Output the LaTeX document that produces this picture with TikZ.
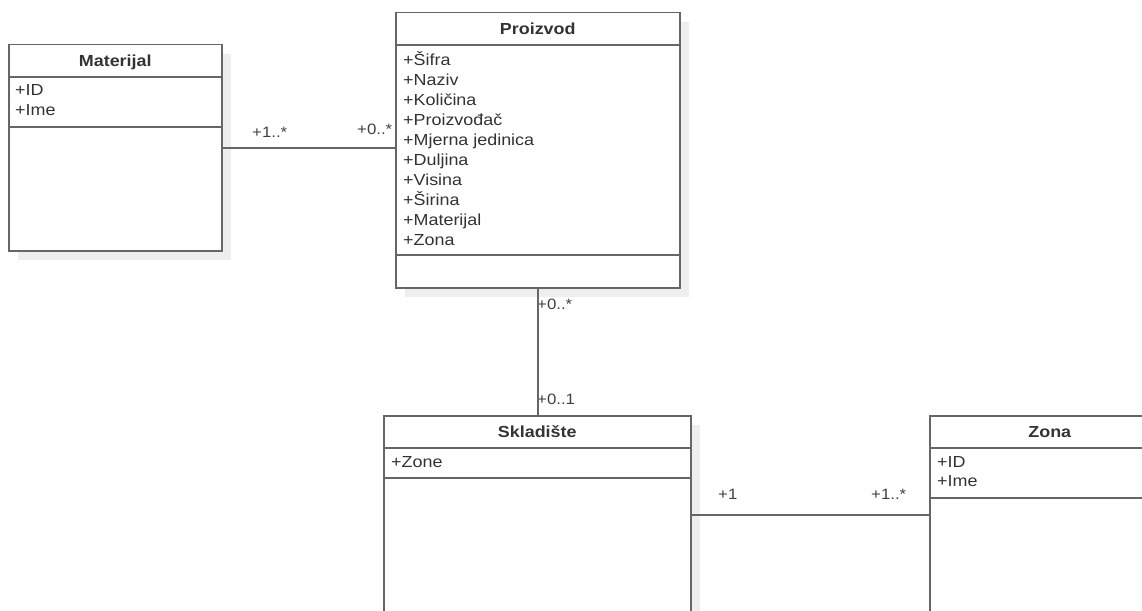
\documentclass[tikz,border=0pt]{standalone}
\usepackage{fontspec}
\setmainfont{Liberation Sans}[FakeStretch=1.12]
\usetikzlibrary{shadows}
\definecolor{umlline}{HTML}{666666}
\definecolor{umltext}{HTML}{333333}
\definecolor{umlshadow}{HTML}{EEEEEE}

\begin{document}
\begin{tikzpicture}
	[
	x=1pt, y=-1pt,
	font=\fontsize{16}{20}\selectfont,
	text=umltext,
	cls/.style={draw=umlline, line width=1.5pt, fill=white, anchor=north west, inner sep=0pt,
		drop shadow={shadow xshift=9pt, shadow yshift=-9pt, fill=umlshadow, opacity=1}},
	sep/.style={draw=umlline, line width=1.5pt},
	ttl/.style={font=\fontsize{16}{20}\selectfont\bfseries, text height=11.5pt, text depth=0pt, inner sep=0pt},
	attr/.style={anchor=base west, inner sep=0pt},
	mult/.style={anchor=base west, inner sep=0pt, font=\fontsize{15}{18}\selectfont, text=black!75},
	assoc/.style={draw=umlline, line width=1.5pt}
	]
		\useasboundingbox (0, 0) rectangle (1142, 610);
		
		% classes
		\node (mat) [cls, minimum width=213pt, minimum height=206pt] at (8, 44) {};
		\node (pro) [cls, minimum width=284pt, minimum height=275pt] at (395, 12) {};
		\node (skl) [cls, minimum width=307pt, minimum height=198pt] at (383, 415) {};
		\node (zon) [cls, minimum width=240pt, minimum height=198pt] at (929, 415) {};
		
		% compartments
		\foreach \n/\y in {mat/77, mat/127, pro/45, pro/255, skl/448, skl/478, zon/448, zon/498}
			\draw [sep] (\n.west |- 0, \y) -- (\n.east |- 0, \y);
		
		% titles
		\node (matT) [ttl] at (mat.north |- 0, 60.5) {Materijal};
		\node (proT) [ttl] at (pro.north |- 0, 28.5) {Proizvod};
		\node (sklT) [ttl] at (skl.north |- 0, 431.5) {Skladište};
		\node (zonT) [ttl] at (zon.north |- 0, 431.5) {Zona};
		
		% attributes
		\foreach \t [count=\i] in {+ID, +Ime}
			\node (matA\i) [attr] at (15, 75+20*\i) {\t};
		\foreach \t [count=\i] in {+Šifra, +Naziv, +Količina, +Proizvođač, +Mjerna jedinica, +Duljina, +Visina, +Širina, +Materijal, +Zona}
			\node (proA\i) [attr] at (403, 45+20*\i) {\t};
		\foreach \t [count=\i] in {+Zone}
			\node (sklA\i) [attr] at (391, 448+19*\i) {\t};
		\foreach \t [count=\i] in {+ID, +Ime}
			\node (zonA\i) [attr] at (937, 448+19*\i) {\t};
		
		% multiplicities
		\node (mMat) [mult] at (252, 137) {+1..*};
		\node (mProL) [mult] at (357, 134) {+0..*};
		\node (mProB) [mult] at (537, 309) {+0..*};
		\node (mSklT) [mult] at (537, 404) {+0..1};
		\node (mSklR) [mult] at (718, 499) {+1};
		\node (mZon) [mult] at (871, 499) {+1..*};
		
		% associations
		\draw [assoc] (mat.east) -- (mat.east -| pro.west);
		\draw [assoc] (pro.south) -- (pro.south |- skl.north);
		\draw [assoc] (skl.east) -- (skl.east -| zon.west);
	\end{tikzpicture}
\end{document}
